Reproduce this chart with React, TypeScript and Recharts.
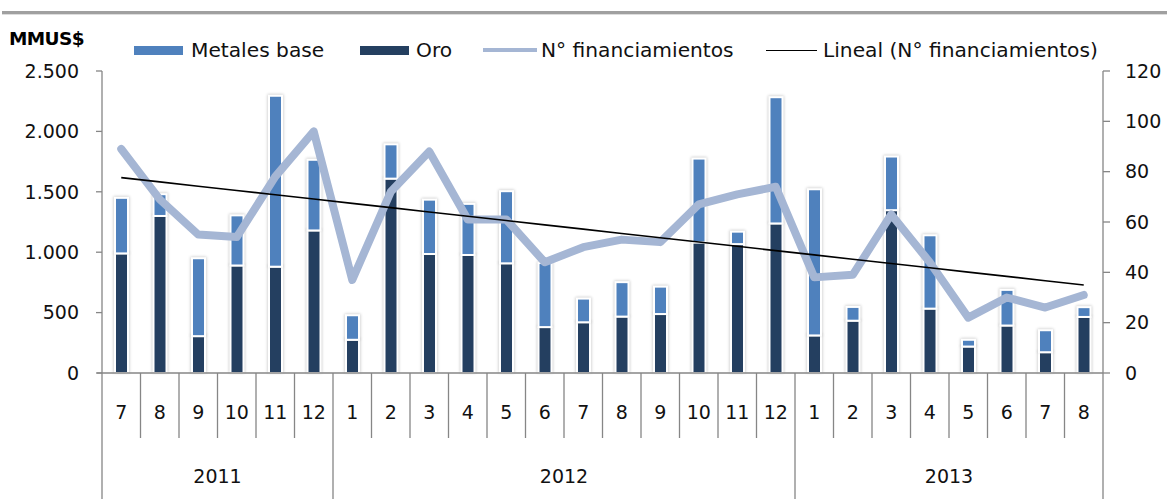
import { ComposedChart, Bar, Line, XAxis, YAxis } from 'recharts';

// Financiamientos por mes, MMUS$ (barras) y número de operaciones (línea)
const months = ['7', '8', '9', '10', '11', '12', '1', '2', '3', '4', '5', '6', '7', '8', '9', '10', '11', '12', '1', '2', '3', '4', '5', '6', '7', '8'];
const years = [
  '2011', '2011', '2011', '2011', '2011', '2011',
  '2012', '2012', '2012', '2012', '2012', '2012', '2012', '2012', '2012', '2012', '2012', '2012',
  '2013', '2013', '2013', '2013', '2013', '2013', '2013', '2013',
];
const oro = [990, 1300, 305, 890, 880, 1180, 275, 1609, 985, 977, 908, 380, 420, 467, 488, 1081, 1067, 1238, 311, 433, 1348, 533, 219, 393, 172, 464];
const metalesBase = [460, 180, 645, 415, 1415, 585, 203, 284, 450, 423, 597, 530, 196, 285, 227, 694, 103, 1045, 1210, 114, 444, 607, 56, 295, 182, 81];
const financiamientos = [89, 69, 55, 54, 78, 96, 37, 72, 88, 61, 61, 44, 50, 53, 52, 67, 71, 74, 38, 39, 63, 44, 22, 30, 26, 31];

const leftTicks = [0, 500, 1000, 1500, 2000, 2500];
const rightTicks = [0, 20, 40, 60, 80, 100, 120];

const C_METALES = '#4F81BD';
const C_ORO = '#243F60';
const C_LINE = '#A5B6D4';
const C_AXIS = '#868686';
const FONT = '"DejaVu Sans", sans-serif';
const TICK_FS = 19;

const W = 1167;
const H = 499;
const MARGIN = { top: 71, right: 14, bottom: 0, left: 40 };
const LEFT_AXIS_W = 62;
const RIGHT_AXIS_W = 50;
const PLOT_W = W - MARGIN.left - MARGIN.right - LEFT_AXIS_W - RIGHT_AXIS_W;
const BAND = PLOT_W / months.length;

// tendencia lineal (mínimos cuadrados) sobre el Nº de financiamientos
function linearTrend(values: number[]) {
  const n = values.length;
  const mx = (n + 1) / 2;
  const my = values.reduce((a, b) => a + b, 0) / n;
  let sxy = 0;
  let sxx = 0;
  values.forEach((v, i) => {
    sxy += (i + 1 - mx) * (v - my);
    sxx += (i + 1 - mx) * (i + 1 - mx);
  });
  const slope = sxy / sxx;
  return values.map((_, i) => my + slope * (i + 1 - mx));
}

const trend = linearTrend(financiamientos);

const rows = months.map((m, i) => ({
  key: `${years[i]}-${m}-${i}`,
  oro: oro[i],
  metales: metalesBase[i],
  fin: financiamientos[i],
  trend: trend[i],
}));

const fmtThousands = (v: number) => String(v).replace(/\B(?=(\d{3})+(?!\d))/g, '.');

function MonthTick(props: any) {
  const { x, y, payload } = props;
  const i = payload.index;
  const left = x - BAND / 2;
  const right = x + BAND / 2;
  const yearStart = i === 0 || years[i] !== years[i - 1];
  const last = i === months.length - 1;
  const count = years.filter((yr) => yr === years[i]).length;
  return (
    <g>
      {i === 0 && <line x1={left - 5} x2={left} y1={y} y2={y} stroke={C_AXIS} strokeWidth={1.3} />}
      <line x1={left} x2={left} y1={y} y2={yearStart ? y + 140 : y + 65} stroke={C_AXIS} strokeWidth={1.3} />
      {last && <line x1={right} x2={right} y1={y} y2={y + 140} stroke={C_AXIS} strokeWidth={1.3} />}
      <text x={x} y={y + 39} dy="0.355em" textAnchor="middle" fontSize={TICK_FS} fontFamily={FONT} fill="#111">
        {months[i]}
      </text>
      {yearStart && (
        <text x={left + (count * BAND) / 2} y={y + 103} dy="0.355em" textAnchor="middle" fontSize={TICK_FS} fontFamily={FONT} fill="#111">
          {years[i]}
        </text>
      )}
    </g>
  );
}

function ShadowBar(props: any) {
  const { x, y, width, height, fill } = props;
  if (!height || height <= 0) return null;
  return (
    <g>
      <defs>
        <filter id="barGlow" x="-50%" y="-50%" width="200%" height="200%">
          <feGaussianBlur stdDeviation="1.6" />
        </filter>
      </defs>
      <rect x={x - 1.5} y={y - 1.5} width={width + 3} height={height + 1.5} fill="#000" opacity={0.2} filter="url(#barGlow)" />
      <rect x={x} y={y} width={width} height={height} fill={fill} stroke="#fff" strokeWidth={2} />
    </g>
  );
}

const legendItems = [
  { label: 'Metales base', kind: 'bar', color: C_METALES, left: 134, textLeft: 191 },
  { label: 'Oro', kind: 'bar', color: C_ORO, left: 360, textLeft: 416 },
  { label: 'N° financiamientos', kind: 'thick', color: C_LINE, left: 483, textLeft: 541 },
  { label: 'Lineal (N° financiamientos)', kind: 'thin', color: '#000', left: 766, textLeft: 823 },
];

export default function App() {
  return (
    <div style={{ position: 'absolute', left: 0, top: 0, width: W, height: H, background: '#fff', fontFamily: FONT, overflow: 'hidden' }}>
      {/* línea gris superior */}
      <div style={{ position: 'absolute', left: 2, top: 11, width: W, height: 3, background: '#A0A0A0' }} />
      <div style={{ position: 'absolute', left: 2, top: 14, width: W, height: 1, background: '#DDDDDD' }} />

      <div style={{ position: 'absolute', left: 9, top: 28, fontSize: 18.5, fontWeight: 700, letterSpacing: -0.6, color: '#000' }}>
        MMUS$
      </div>

      {legendItems.map((it) => (
        <div key={it.label}>
          <div
            style={{
              position: 'absolute',
              left: it.left,
              top: it.kind === 'bar' ? 46 : it.kind === 'thick' ? 48 : 49.5,
              width: it.kind === 'bar' ? 49 : it.kind === 'thick' ? 54 : 51,
              height: it.kind === 'bar' ? 9 : it.kind === 'thick' ? 4 : 1.5,
              background: it.color,
            }}
          />
          <div style={{ position: 'absolute', left: it.textLeft, top: 37, fontSize: 20.2, color: '#111', whiteSpace: 'nowrap', lineHeight: '26px' }}>
            {it.label}
          </div>
        </div>
      ))}

      <div style={{ position: 'absolute', left: 0, top: 0 }}>
        <ComposedChart width={W} height={H} data={rows} margin={MARGIN} barSize={13} barGap={0}>
          <XAxis
            dataKey="key"
            height={126}
            interval={0}
            tickLine={false}
            tickSize={0}
            tickMargin={0}
            axisLine={{ stroke: C_AXIS, strokeWidth: 1.3 }}
            tick={<MonthTick />}
          />
          <YAxis
            yAxisId="left"
            width={LEFT_AXIS_W}
            domain={[0, 2500]}
            ticks={leftTicks}
            interval={0}
            tickFormatter={fmtThousands}
            tickSize={6}
            tickMargin={17}
            axisLine={{ stroke: C_AXIS, strokeWidth: 1.3 }}
            tickLine={{ stroke: C_AXIS, strokeWidth: 1.3 }}
            tick={{ fontSize: TICK_FS, fontFamily: FONT, fill: '#111' }}
          />
          <YAxis
            yAxisId="right"
            orientation="right"
            width={RIGHT_AXIS_W}
            domain={[0, 120]}
            ticks={rightTicks}
            interval={0}
            tickSize={7}
            tickMargin={15}
            axisLine={{ stroke: C_AXIS, strokeWidth: 1.3 }}
            tickLine={{ stroke: C_AXIS, strokeWidth: 1.3 }}
            tick={{ fontSize: TICK_FS, fontFamily: FONT, fill: '#111' }}
          />
          <Bar yAxisId="left" dataKey="oro" stackId="fin" fill={C_ORO} shape={<ShadowBar />} isAnimationActive={false} />
          <Bar yAxisId="left" dataKey="metales" stackId="fin" fill={C_METALES} shape={<ShadowBar />} isAnimationActive={false} />
          <Line
            yAxisId="right"
            dataKey="fin"
            type="linear"
            stroke={C_LINE}
            strokeWidth={8}
            strokeLinejoin="round"
            strokeLinecap="round"
            dot={false}
            activeDot={false}
            isAnimationActive={false}
          />
          <Line
            yAxisId="right"
            dataKey="trend"
            type="linear"
            stroke="#000"
            strokeWidth={1.6}
            dot={false}
            activeDot={false}
            isAnimationActive={false}
          />
        </ComposedChart>
      </div>
    </div>
  );
}
